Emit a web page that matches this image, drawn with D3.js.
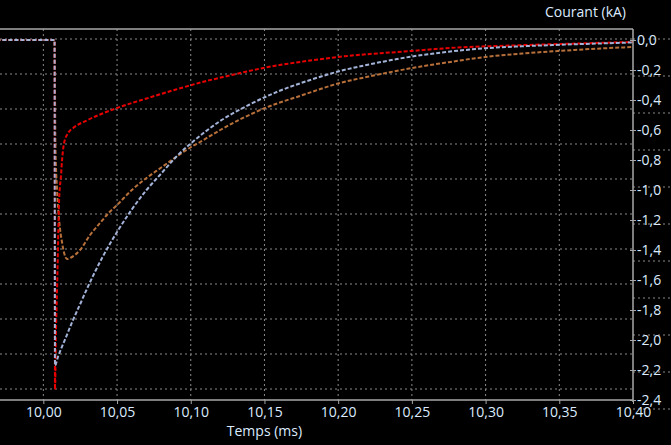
<!DOCTYPE html>
<meta charset="utf-8">
<style>
body { margin: 0; background: #000; }
text { font-family: "Open Sans", sans-serif; fill: #dcebff; }
.grid line { stroke: #8a8a8a; stroke-width: 1; stroke-dasharray: 2,3; }
.trace { fill: none; stroke-width: 2; stroke-dasharray: 4,2; }
</style>
<body>
<script src="https://cdn.jsdelivr.net/npm/d3@7"></script>
<script>

// time in ms, current in kA
var blueT = [9.96, 10.0076, 10.0079, 10.010, 10.015, 10.020, 10.025, 10.030, 10.040, 10.050, 10.060, 10.070,
             10.080, 10.090, 10.100, 10.120, 10.140, 10.160, 10.180, 10.200, 10.225, 10.250, 10.275, 10.300,
             10.325, 10.350, 10.375, 10.400];
var blueV = [0, 0, -2.17, -2.11, -1.99, -1.87, -1.76, -1.65, -1.45, -1.28, -1.13, -1.00,
             -0.89, -0.78, -0.69, -0.54, -0.43, -0.34, -0.27, -0.21, -0.155, -0.11, -0.078, -0.055,
             -0.042, -0.032, -0.024, -0.016];

var redT = [9.96, 10.0076, 10.0079, 10.0086, 10.0093, 10.0107, 10.0120, 10.0127, 10.0140, 10.0168, 10.0202,
            10.0303, 10.050, 10.070, 10.090, 10.110, 10.125, 10.150, 10.175, 10.200, 10.250, 10.276,
            10.320, 10.360, 10.400];
var redV = [0, 0, -2.33, -1.93, -1.67, -1.07, -0.90, -0.80, -0.69, -0.62, -0.587,
            -0.533, -0.453, -0.39, -0.33, -0.275, -0.24, -0.185, -0.145, -0.113, -0.073, -0.053,
            -0.036, -0.024, -0.013];

var orangeT = [9.96, 10.0076, 10.0082, 10.0093, 10.0107, 10.0127, 10.0141, 10.0161, 10.0188, 10.0249, 10.0317,
               10.0385, 10.0446, 10.050, 10.060, 10.070, 10.080, 10.090, 10.100, 10.1063, 10.120, 10.150,
               10.175, 10.200, 10.225, 10.250, 10.275, 10.300, 10.325, 10.350, 10.375, 10.400];
var orangeV = [0, 0, -0.70, -1.00, -1.20, -1.35, -1.42, -1.46, -1.45, -1.40, -1.30,
               -1.22, -1.15, -1.10, -1.00, -0.92, -0.85, -0.78, -0.715, -0.68, -0.60, -0.455,
               -0.37, -0.29, -0.235, -0.187, -0.148, -0.113, -0.09, -0.073, -0.058, -0.047];

var xTicks = [10.00, 10.05, 10.10, 10.15, 10.20, 10.25, 10.30, 10.35, 10.40];
var yTicks = [0, -0.2, -0.4, -0.6, -0.8, -1.0, -1.2, -1.4, -1.6, -1.8, -2.0, -2.2, -2.4];

var W = 671, H = 445;
var plotRight = 633, plotTop = 29, plotBottom = 400;

var x = d3.scaleLinear().domain([9.9706, 10.40]).range([0, plotRight]);
var y = d3.scaleLinear().domain([-2.4, 0.0733]).range([plotBottom, plotTop]);

var comma = function (f) { return function (d) { return d3.format(f)(d).replace(".", ",").replace("\u2212", "-"); }; };

var svg = d3.select("body").append("svg")
    .attr("width", W)
    .attr("height", H);

svg.append("rect").attr("width", W).attr("height", H).attr("fill", "#000");

// grid (the horizontal grid does not follow the tick spacing in the original)
var grid = svg.append("g").attr("class", "grid");
var hGrid = d3.range(11).map(function (k) { return 39 + 35 * k; });
var hGridRight = d3.range(11).map(function (k) { return 39 + 37 * k; });

grid.selectAll(".h").data(hGrid).enter().append("line")
    .attr("x1", 0).attr("x2", plotRight)
    .attr("y1", function (d) { return d; }).attr("y2", function (d) { return d; });
grid.selectAll(".hr").data(hGridRight).enter().append("line")
    .attr("x1", plotRight).attr("x2", W)
    .attr("y1", function (d) { return d; }).attr("y2", function (d) { return d; });
grid.selectAll(".v").data(xTicks.slice(0, -1)).enter().append("line")
    .attr("x1", x).attr("x2", x)
    .attr("y1", plotTop).attr("y2", plotBottom);

// traces
var plot = svg.append("g");
function trace(ts, vs, color) {
    var pts = ts.map(function (t, i) { return [t, vs[i]]; });
    plot.append("path")
        .datum(pts)
        .attr("class", "trace")
        .attr("stroke", color)
        .attr("d", d3.line().curve(d3.curveMonotoneX)
            .x(function (d) { return x(d[0]); }).y(function (d) { return y(d[1]); }));
}
trace(orangeT, orangeV, "#b8703a");
trace(redT, redV, "#e80000");
trace(blueT, blueV, "#a3b3d8");

// frame line on top
svg.append("line").attr("x1", 0).attr("x2", plotRight).attr("y1", plotTop).attr("y2", plotTop)
    .attr("stroke", "#a8a8a8").attr("stroke-width", 1.5);

// bottom axis
var xAxis = svg.append("g")
    .attr("transform", "translate(0," + plotBottom + ")")
    .call(d3.axisBottom(x).tickValues(xTicks).tickFormat(comma(".2f")).tickSize(4).tickPadding(3));
xAxis.select(".domain").attr("stroke", "#a8a8a8").attr("stroke-width", 1.5).attr("d", "M0,0H" + plotRight);
xAxis.selectAll(".tick line").attr("stroke", "#a8a8a8");
xAxis.selectAll("text").attr("fill", "#dcebff").style("font-size", "14px").attr("font-family", null);

// right axis
var yAxis = svg.append("g")
    .attr("transform", "translate(" + plotRight + ",0)")
    .call(d3.axisRight(y).tickValues(yTicks).tickFormat(comma(".1f")).tickSize(3).tickPadding(1));
yAxis.select(".domain").attr("stroke", "#a8a8a8").attr("stroke-width", 1.5).attr("d", "M0," + plotTop + "V" + (plotBottom + 2));
yAxis.selectAll(".tick line").attr("stroke", "#a8a8a8").attr("x1", -3);
yAxis.selectAll("text").attr("fill", "#dcebff").style("font-size", "14px").attr("font-family", null);

// titles
svg.append("text").attr("x", x(10.15)).attr("y", 436).attr("text-anchor", "middle")
    .style("font-size", "14px").text("Temps (ms)");
svg.append("text").attr("x", 626).attr("y", 17).attr("text-anchor", "end")
    .style("font-size", "14px").text("Courant (kA)");

</script>
</body>
